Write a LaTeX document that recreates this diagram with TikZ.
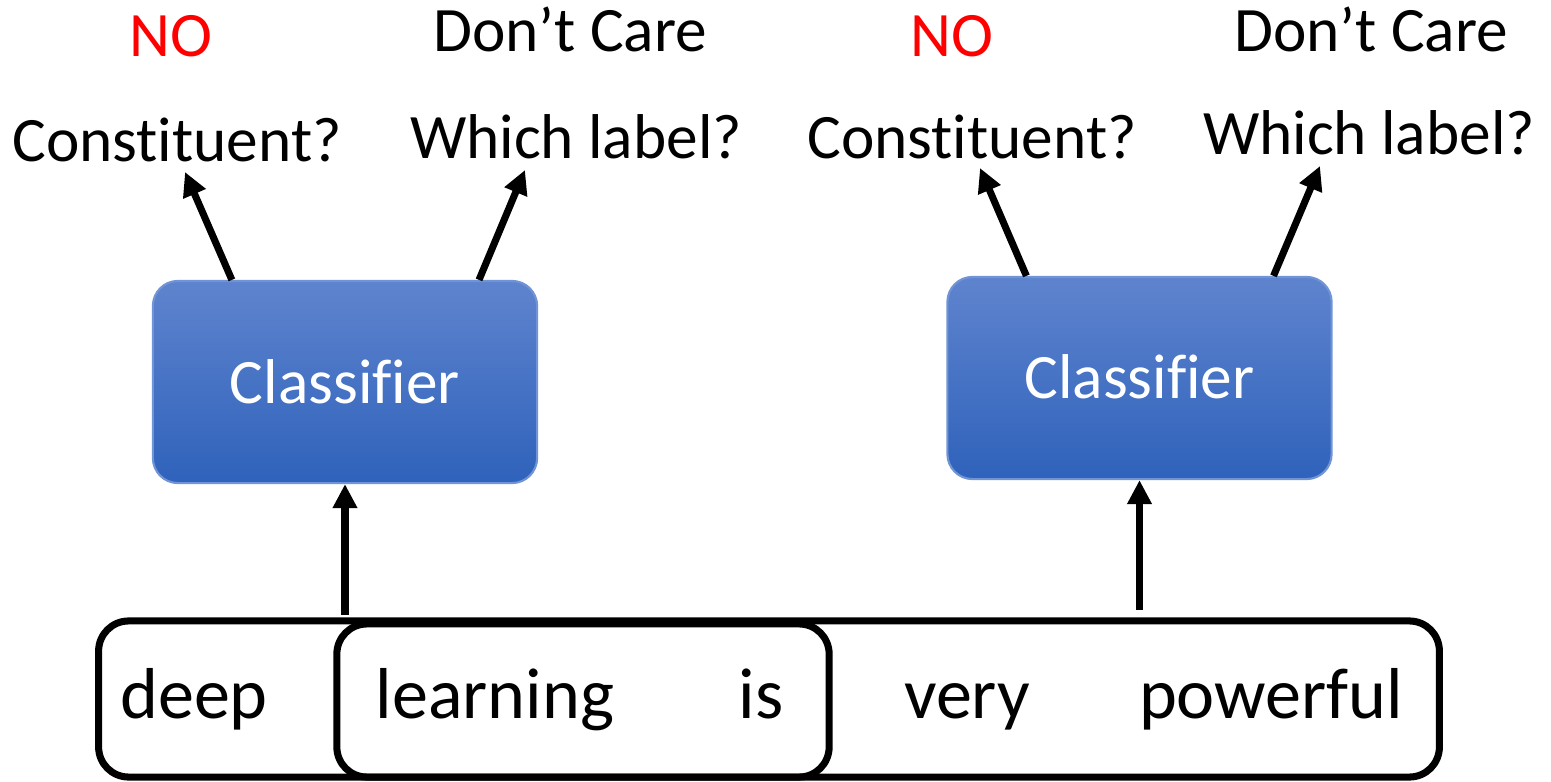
\documentclass[tikz,border=0pt]{standalone}
\usepackage{fontspec}
\setmainfont{Carlito}[Ligatures=NoCommon]
\usetikzlibrary{arrows.meta,calc}

\definecolor{clsTop}{RGB}{95,132,206}
\definecolor{clsBot}{RGB}{47,98,187}
\definecolor{clsEdge}{RGB}{112,148,214}
\definecolor{noRed}{RGB}{255,0,0}

% separate letter pairs that the font would otherwise join
\newcommand{\nolig}{\kern0pt{}}

\tikzset{
  lbl/.style={anchor=base, inner sep=0pt, font=\fontsize{18}{18}\selectfont},
  word/.style={anchor=base, inner sep=0pt, font=\fontsize{20.5}{20.5}\selectfont},
  clsbox/.style={rectangle, rounded corners=0.25cm, minimum width=3.84cm,
    minimum height=2.02cm, top color=clsTop, bottom color=clsBot,
    draw=clsEdge, line width=0.6pt, text=white, inner sep=0pt},
  spanbox/.style={rectangle, rounded corners=0.3cm, draw=black,
    line width=2pt, inner sep=0pt},
  arr/.style={line width=2pt, -{Triangle[length=6.8pt,width=6.6pt]}}
}

\begin{document}
\begin{tikzpicture}[x=0.01cm, y=-0.01cm]
\useasboundingbox (0,0) rectangle (1551,782);

% sentence spans
\node[spanbox, minimum width=13.4cm, minimum height=1.56cm] (outer) at (769,699) {};
\node[spanbox, minimum width=4.92cm, minimum height=1.53cm] (inner) at (583,700.5) {};

% words
\node[word] (w1) at (194,718) {deep};
\node[word] (w2) at (495,718) {learning};
\node[word] (w3) at (761,718) {is};
\node[word] (w4) at (967,718) {very};
\node[word] (w5) at (1271,718) {powerful};

% classifiers
\node[clsbox] (c1) at (345,382) {};
\node[lbl, text=white] (c1t) at (345,403) {Classif\nolig ier};
\node[clsbox] (c2) at (1139.5,378) {};
\node[lbl, text=white] (c2t) at (1139.5,399) {Classif\nolig ier};

% labels above the first classifier
\node[lbl, text=noRed] (no1) at (171,57) {NO};
\node[lbl] (dc1) at (570,52) {Don’t Care};
\node[lbl] (q1a) at (177,162) {Const\nolig ituent?};
\node[lbl] (q1b) at (576,159) {Which label?};

% labels above the second classifier
\node[lbl, text=noRed] (no2) at (952,57) {NO};
\node[lbl] (dc2) at (1371,52) {Don’t Care};
\node[lbl] (q2a) at (972,159) {Const\nolig ituent?};
\node[lbl] (q2b) at (1369,155) {Which label?};

% arrow ends
\coordinate (s1) at (345,615);
\coordinate (s2) at (1139.5,610);
\coordinate (t1a) at (185,172);
\coordinate (t1b) at (525,170);
\coordinate (t2a) at (980,168);
\coordinate (t2b) at (1320,166);

% span representations into the classifiers
\draw[arr] (s1) -- (c1.south);
\draw[arr] (s2) -- (c2.south);

% classifier outputs
\draw[arr] ([xshift=0.8cm]c1.north west) -- (t1a);
\draw[arr] ([xshift=3.27cm]c1.north west) -- (t1b);
\draw[arr] ([xshift=0.8cm]c2.north west) -- (t2a);
\draw[arr] ([xshift=3.27cm]c2.north west) -- (t2b);
\end{tikzpicture}
\end{document}
